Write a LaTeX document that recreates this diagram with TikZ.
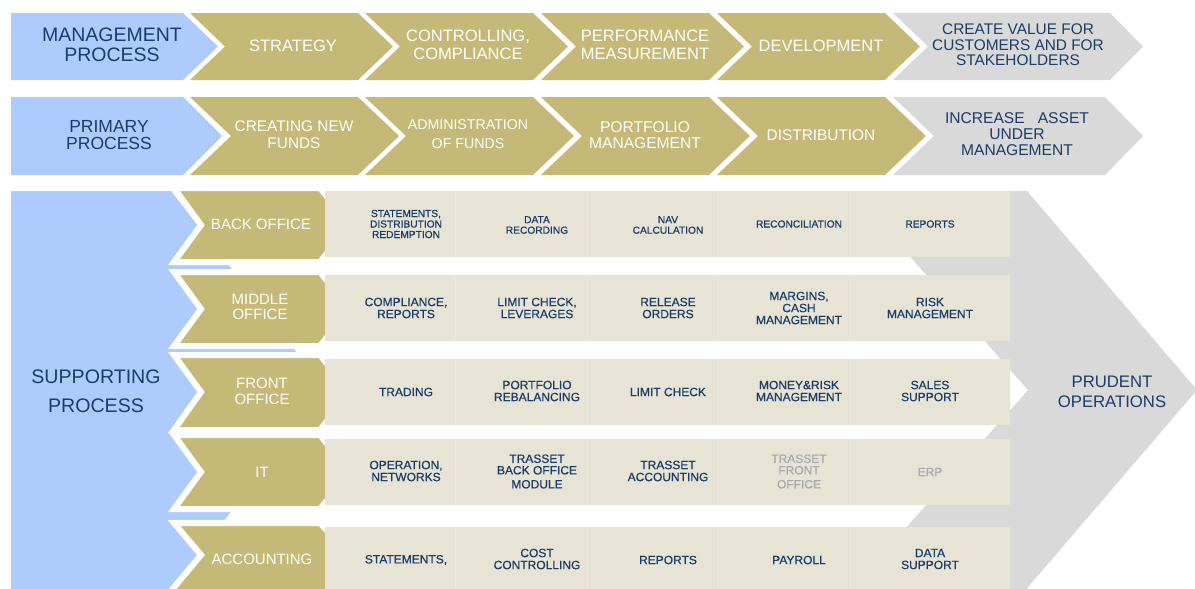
\documentclass[tikz,border=0pt]{standalone}
\usepackage{fontspec}
\setmainfont{Liberation Sans}
\definecolor{bluefill}{HTML}{ADCBFC}
\definecolor{olivfill}{HTML}{C4B977}
\definecolor{beigefill}{HTML}{E8E4D5}
\definecolor{greyfill}{HTML}{D9D9D9}
\definecolor{navytext}{HTML}{1A3D6A}
\definecolor{fadetext}{HTML}{A8A8A8}
\newcommand\fsz[2]{\fontsize{#1}{#2}\selectfont}
\newcommand\heavy{\addfontfeature{FakeBold=0.6}}
\begin{document}
\begin{tikzpicture}[x=1pt,y=-1pt,
  hdr/.style={text=navytext, align=center, inner sep=0pt},
  wht/.style={text=white, align=center, inner sep=0pt},
  cell/.style={text=navytext, align=center, inner sep=0pt, font=\fsz{12}{12}\heavy},
  bcell/.style={text=navytext, align=center, inner sep=0pt, font=\fsz{10.2}{10.5}\heavy},
  fcell/.style={text=fadetext, align=center, inner sep=0pt, font=\fsz{12}{11.5}\heavy},
  olivebox/.style={fill=olivfill, draw=white, line width=6pt, line join=miter},
  divider/.style={draw=white, draw opacity=0.2, line width=0.6pt}
]
\useasboundingbox (0,0) rectangle (1195,589);
\clip (0,0) rectangle (1195,589);

% ---------- Row 1: management process ----------
\fill[bluefill] (11,13) -- (183,13) -- (218,46.5) -- (183,80) -- (11,80) -- cycle;
\foreach \x in {190,365,541,717}{
  \fill[olivfill] (\x,13) -- ({\x+168},13) -- ({\x+203},46.5) -- ({\x+168},80) -- (\x,80) -- ({\x+35},46.5) -- cycle;
}
\fill[greyfill] (893,13) -- (1110,13) -- (1143,46.5) -- (1110,80) -- (893,80) -- (928,46.5) -- cycle;

% ---------- Row 2: primary process ----------
\fill[bluefill] (11,97) -- (183,97) -- (222,136) -- (183,175) -- (11,175) -- cycle;
\foreach \x in {190,365,541,717}{
  \fill[olivfill] (\x,97) -- ({\x+168},97) -- ({\x+209},136) -- ({\x+168},175) -- (\x,175) -- ({\x+41},136) -- cycle;
}
\fill[greyfill] (893,97) -- (1105,97) -- (1143,136) -- (1105,175) -- (893,175) -- (934,136) -- cycle;

% ---------- Supporting process ----------
\fill[bluefill] (11,191) -- (171,191) -- (326,390) -- (162,600) -- (11,600) -- cycle;
\fill[greyfill] (852,191) -- (1027,191) -- (1197,390) -- (1017,600) -- (842,600) -- (1028,390) -- cycle;

% olive sub-process chevrons
\foreach \t/\b/\m in {191/259/225, 275/343/309, 358/427/392, 438/506/472}{
  \path[olivebox] (174,{\t-3}) -- (320,{\t-3}) -- (350,\m) -- (320,{\b+3}) -- (174,{\b+3}) -- (201,\m) -- cycle;
}
\path[olivebox] (174,523) -- (320,523) -- (350,555) -- (320,640) -- (130,640) -- (201,555) -- cycle;

% beige rows
\foreach \t/\b in {191/257, 275/341, 359/425, 439/505, 527/600}{
  \fill[beigefill] (325,\t) rectangle (1010,\b);
  \foreach \x in {455,587,718,850}{
    \draw[divider] (\x,\t) -- (\x,\b);
  }
}

% ---------- Texts ----------
\node[hdr, font=\fsz{19.5}{19.5}] (mp) at (112,45) {MANAGEMENT\\PROCESS};
\node[wht, font=\fsz{16.5}{18}] (st) at (293,46) {STRATEGY};
\node[wht, font=\fsz{16.5}{18}] (cc) at (468,45) {CONTROLLING,\\COMPLIANCE};
\node[wht, font=\fsz{16.5}{18}] (pm) at (645,45) {PERFORMANCE\\MEASUREMENT};
\node[wht, font=\fsz{16.5}{18}] (dv) at (821,46) {DEVELOPMENT};
\node[hdr, font=\fsz{15.4}{15.5}] (cv) at (1018,45) {CREATE VALUE FOR\\CUSTOMERS AND FOR\\STAKEHOLDERS};

\node[hdr, font=\fsz{17.5}{17}] (pp) at (109,135) {PRIMARY\\PROCESS};
\node[wht, font=\fsz{15.4}{17}] (cf) at (294,135) {CREATING NEW\\FUNDS};
\node[wht, font=\fsz{14.2}{19}] (af) at (468,134) {ADMINISTRATION\\OF FUNDS};
\node[wht, font=\fsz{15.6}{16}] (pf) at (645,135) {PORTFOLIO\\MANAGEMENT};
\node[wht, font=\fsz{15.4}{16}] (ds) at (821,135) {DISTRIBUTION};
\node[hdr, font=\fsz{15.6}{16}] (ia) at (1017,134) {INCREASE\ \ \ ASSET\\UNDER\\MANAGEMENT};

\node[hdr, font=\fsz{19.6}{29}] (sp) at (96,391) {SUPPORTING\\PROCESS};
\node[hdr, font=\fsz{16.7}{20}] (po) at (1112,392) {PRUDENT\\OPERATIONS};

\node[wht, font=\fsz{15}{15}] (bo) at (261,224) {BACK OFFICE};
\node[wht, font=\fsz{15}{15}] (mo) at (260,307) {MIDDLE\\OFFICE};
\node[wht, font=\fsz{15}{16}] (fo) at (262,391) {FRONT\\OFFICE};
\node[wht, font=\fsz{15}{15}] (it) at (262,472) {IT};
\node[wht, font=\fsz{15}{15}] (ac) at (262,559) {ACCOUNTING};

% back office cells
\node[bcell] (b1) at (406,224) {STATEMENTS,\\DISTRIBUTION\\REDEMPTION};
\node[bcell] (b2) at (537,225) {DATA\\RECORDING};
\node[bcell] (b3) at (668,225) {NAV\\CALCULATION};
\node[bcell] (b4) at (799,224) {RECONCILIATION};
\node[bcell] (b5) at (930,224) {REPORTS};

% middle office cells
\node[cell] (m1) at (406,308) {COMPLIANCE,\\REPORTS};
\node[cell] (m2) at (537,308) {LIMIT CHECK,\\LEVERAGES};
\node[cell] (m3) at (668,308) {RELEASE\\ORDERS};
\node[cell] (m4) at (799,308) {MARGINS,\\CASH\\MANAGEMENT};
\node[cell] (m5) at (930,308) {RISK\\MANAGEMENT};

% front office cells
\node[cell] (f1) at (406,392) {TRADING};
\node[cell] (f2) at (537,391) {PORTFOLIO\\REBALANCING};
\node[cell] (f3) at (668,392) {LIMIT CHECK};
\node[cell] (f4) at (799,391) {MONEY\&RISK\\MANAGEMENT};
\node[cell] (f5) at (930,391) {SALES\\SUPPORT};

% IT cells
\node[cell] (i1) at (406,471) {OPERATION,\\NETWORKS};
\node[cell, font=\fsz{12}{11.5}\heavy] (i2) at (537,471.5) {TRASSET\\BACK OFFICE\\[2.5pt]MODULE};
\node[cell] (i3) at (668,471) {TRASSET\\ACCOUNTING};
\node[fcell] (i4) at (799,471.5) {TRASSET\\FRONT\\[2.5pt]OFFICE};
\node[fcell] (i5) at (930,472) {ERP};

% accounting cells
\node[cell] (a1) at (406,560) {STATEMENTS,};
\node[cell] (a2) at (537,559) {COST\\CONTROLLING};
\node[cell] (a3) at (668,560) {REPORTS};
\node[cell] (a4) at (799,560) {PAYROLL};
\node[cell] (a5) at (930,559) {DATA\\SUPPORT};
\end{tikzpicture}
\end{document}
